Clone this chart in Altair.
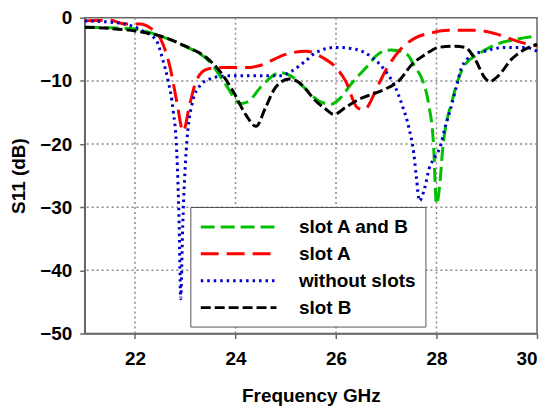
import altair as alt
import pandas as pd

series_names = ["slot A and B", "slot A", "without slots", "slot B"]
series_colors = ["#00c000", "#ff0000", "#0000cc", "#000000"]
series_dashes = [[14, 6], [18, 8], [2.5, 4], [10, 4]]

ab_f = [21.0, 21.5, 22.0, 22.5, 23.0, 23.5, 23.8, 24.1, 24.25, 24.5, 24.9, 25.1, 25.4, 25.66, 25.9, 26.1,
        26.3, 26.6, 26.85, 27.1, 27.4, 27.58, 27.7, 27.84, 27.94, 28.0, 28.07, 28.12, 28.2, 28.3, 28.4,
        28.57, 28.83, 29.2, 29.6, 30.0]
ab_db = [-1.5, -1.6, -1.8, -2.9, -4.5, -7.1, -10.5, -13.6, -13.3, -11.0, -8.7, -9.2, -11.3, -13.2, -13.7, -12.6,
         -10.5, -7.9, -5.7, -5.1, -5.7, -7.9, -9.5, -13.5, -20.0, -29.5, -26.0, -21.0, -16.5, -13.5, -10.5,
         -7.4, -5.8, -4.2, -3.4, -2.9]

a_f = [21.0, 21.5, 21.8, 22.1, 22.3, 22.5, 22.7, 22.83, 22.96, 23.09, 23.22, 23.42, 23.68, 24.2, 24.47, 25.0,
       25.4, 25.73, 26.0, 26.19, 26.42, 26.55, 26.85, 27.0, 27.25, 27.58, 27.9, 28.24, 28.77, 29.2, 29.6, 30.0]
a_db = [-0.5, -0.4, -1.0, -1.0, -1.6, -3.2, -7.9, -13.2, -18.0, -13.7, -10.0, -8.2, -7.9, -7.9, -7.6, -5.8,
        -5.3, -6.3, -7.9, -10.0, -14.2, -14.6, -10.5, -8.2, -5.3, -3.2, -2.4, -2.0, -2.0, -2.6, -3.7, -4.5]

ws_f = [21.0, 21.5, 21.8, 22.16, 22.43, 22.56, 22.66, 22.76, 22.83, 22.88, 22.91, 22.95, 23.02, 23.15, 23.29,
        23.49, 23.82, 24.47, 24.87, 25.13, 25.4, 25.6, 26.0, 26.39, 26.72, 26.98, 27.18, 27.31, 27.45, 27.55,
        27.6, 27.66, 27.77, 27.85, 27.97, 28.07, 28.17, 28.27, 28.4, 28.5, 28.7, 28.96, 29.36, 29.76, 30.0]
ws_db = [-0.5, -0.7, -1.0, -2.1, -3.7, -6.8, -10.0, -14.7, -21.0, -33.0, -44.5, -33.0, -21.0, -13.2, -10.8,
         -9.7, -9.2, -9.2, -9.2, -8.4, -6.8, -5.5, -4.7, -5.0, -6.3, -8.4, -11.0, -13.7, -17.4, -21.6,
         -25.3, -29.0, -26.8, -24.0, -22.0, -20.5, -17.4, -14.7, -10.8, -7.9, -6.0, -5.3, -4.7, -4.7, -5.3]

b_f = [21.0, 21.5, 22.0, 22.5, 23.0, 23.42, 23.68, 23.95, 24.2, 24.41, 24.6, 24.8, 25.07, 25.27, 25.43, 25.53,
       25.8, 25.96, 26.19, 26.46, 26.72, 26.98, 27.25, 27.51, 27.78, 28.04, 28.37, 28.57, 28.77, 28.96, 29.06,
       29.23, 29.49, 29.76, 30.0]
b_db = [-1.5, -1.7, -2.1, -2.9, -4.5, -6.3, -8.4, -11.6, -15.3, -17.2, -14.2, -11.0, -9.7, -10.3, -11.6, -12.6,
        -14.5, -15.3, -14.2, -12.9, -12.1, -11.3, -10.0, -7.4, -5.8, -4.7, -4.5, -4.7, -6.6, -9.5, -10.1,
        -9.2, -6.6, -5.0, -4.2]

x_ticks = [22, 24, 26, 28, 30]
y_ticks = [0, -10, -20, -30, -40, -50]
x_grid = [22, 24, 26, 28]
y_grid = [-10, -20, -30, -40]

frames = []
for name, fs, ds in [(series_names[0], ab_f, ab_db), (series_names[1], a_f, a_db),
                     (series_names[2], ws_f, ws_db), (series_names[3], b_f, b_db)]:
    frames.append(pd.DataFrame({"f": fs, "db": ds, "series": name,
                                "ord": series_names.index(name)}))
df = pd.concat(frames, ignore_index=True)

FONT = "Liberation Sans"

xscale = alt.Scale(domain=[21, 30], nice=False, zero=False)
yscale = alt.Scale(domain=[-50, 0], nice=False)

legend = alt.Legend(
    title=None, orient="none", legendX=106, legendY=190,
    symbolType="M-1,0H7", symbolSize=361, symbolStrokeWidth=3,
    labelFont=FONT, labelFontSize=19, labelFontWeight="bold", labelColor="#000",
    labelOffset=78, rowPadding=6, padding=9,
    fillColor="white", strokeColor="#555",
)

grid_style = dict(color="#888", strokeDash=[2, 3], strokeWidth=1.5)

vgrid = alt.Chart(pd.DataFrame({"gx": x_grid})).mark_rule(**grid_style).encode(
    x=alt.X("gx:Q", scale=xscale)
)
hgrid = alt.Chart(pd.DataFrame({"gy": y_grid})).mark_rule(**grid_style).encode(
    y=alt.Y("gy:Q", scale=yscale)
)

lines = alt.Chart(df).mark_line(strokeWidth=3, interpolate="monotone").encode(
    x=alt.X("f:Q", scale=xscale,
            axis=alt.Axis(values=x_ticks, title="Frequency GHz", format="d", grid=False)),
    y=alt.Y("db:Q", scale=yscale,
            axis=alt.Axis(values=y_ticks, title="S11 (dB)", format="d", grid=False)),
    color=alt.Color("series:N", scale=alt.Scale(domain=series_names, range=series_colors), legend=legend),
    strokeDash=alt.StrokeDash("series:N", scale=alt.Scale(domain=series_names, range=series_dashes), legend=legend),
    order=alt.Order("ord:Q"),
    detail="series:N",
)

chart = alt.layer(vgrid, hgrid, lines).properties(
    width=454, height=317,
    autosize=alt.AutoSizeParams(type="none"),
    padding={"left": 77, "top": 9, "right": 5, "bottom": 75},
).configure_view(
    stroke="#666", strokeWidth=1.5
).configure_axis(
    labelFont=FONT, labelFontSize=19, labelFontWeight="bold", labelColor="#000",
    titleFont=FONT, titleFontSize=19, titleFontWeight="bold", titleColor="#000",
    domainColor="#666", domainWidth=1.5, tickColor="#666", tickSize=5, tickWidth=1.5,
    grid=False,
).configure_axisX(
    labelPadding=11, titlePadding=18,
).configure_axisY(
    labelPadding=8, titlePadding=11,
)

chart.save("out.html", embed_options={"renderer": "svg", "actions": False})
